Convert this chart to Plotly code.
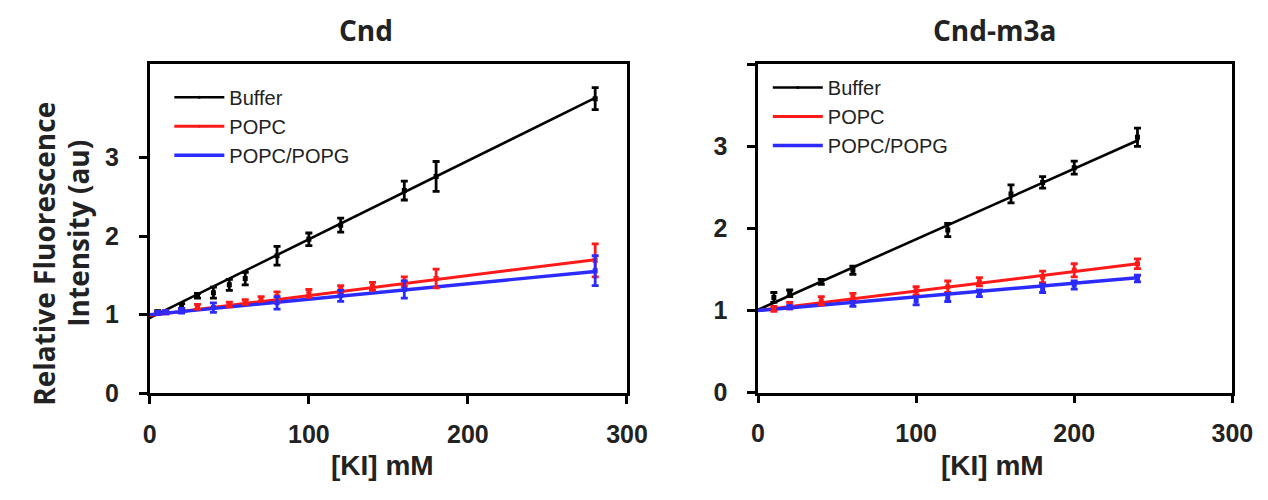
import plotly.graph_objects as go

# ---------------- Data: Cnd (left) ----------------
cnd_buf_x = [5, 20, 30, 40, 50, 60, 80, 100, 120, 160, 180, 280]
cnd_buf_y = [1.03, 1.11, 1.24, 1.28, 1.38, 1.46, 1.75, 1.96, 2.14, 2.58, 2.76, 3.75]
cnd_buf_e = [0.02, 0.03, 0.03, 0.07, 0.07, 0.08, 0.12, 0.08, 0.09, 0.12, 0.19, 0.14]

cnd_popc_x = [5, 10, 30, 50, 60, 70, 80, 100, 120, 140, 160, 180, 280]
cnd_popc_y = [1.02, 1.03, 1.10, 1.13, 1.16, 1.20, 1.23, 1.27, 1.32, 1.36, 1.42, 1.46, 1.69]
cnd_popc_e = [0.02, 0.02, 0.03, 0.03, 0.03, 0.03, 0.06, 0.05, 0.05, 0.05, 0.06, 0.12, 0.21]

cnd_pg_x = [5, 10, 20, 40, 80, 120, 160, 280]
cnd_pg_y = [1.02, 1.03, 1.05, 1.09, 1.15, 1.24, 1.32, 1.56]
cnd_pg_e = [0.02, 0.02, 0.03, 0.06, 0.08, 0.07, 0.11, 0.19]

cnd_fit_x = [0, 280]
cnd_fit_buf = [0.96, 3.76]
cnd_fit_popc = [0.99, 1.70]
cnd_fit_pg = [1.0, 1.55]

# ---------------- Data: Cnd-m3a (right) ----------------
m3a_buf_x = [10, 20, 40, 60, 120, 160, 180, 200, 240]
m3a_buf_y = [1.16, 1.21, 1.35, 1.49, 1.98, 2.42, 2.56, 2.74, 3.11]
m3a_buf_e = [0.06, 0.04, 0.03, 0.05, 0.08, 0.11, 0.07, 0.08, 0.11]

m3a_popc_x = [10, 20, 40, 60, 100, 120, 140, 180, 200, 240]
m3a_popc_y = [1.02, 1.06, 1.12, 1.16, 1.24, 1.29, 1.35, 1.41, 1.49, 1.57]
m3a_popc_e = [0.03, 0.04, 0.05, 0.05, 0.05, 0.07, 0.05, 0.07, 0.08, 0.06]

m3a_pg_x = [20, 60, 100, 120, 140, 180, 200, 240]
m3a_pg_y = [1.04, 1.08, 1.12, 1.16, 1.21, 1.27, 1.31, 1.39]
m3a_pg_e = [0.02, 0.03, 0.05, 0.05, 0.04, 0.05, 0.05, 0.04]

m3a_fit_x = [0, 240]
m3a_fit_buf = [1.01, 3.07]
m3a_fit_popc = [1.0, 1.57]
m3a_fit_pg = [1.0, 1.40]

series_names = ["Buffer", "POPC", "POPC/POPG"]
colors = ["#000000", "#ff1a1a", "#2b2bff"]
widths = [2.6, 3.0, 3.4]

x_ticks = [0, 100, 200, 300]
x_ticktext = ["0", "100", "200", "300"]
y_ticks_left = [0, 1, 2, 3]
y_ticktext_left = ["0", "1", "2", "3"]
y_ticks_right = [0, 1, 2, 3, 4]
y_ticktext_right = ["0", "1", "2", "3", ""]

W, H = 1268, 500

fig = go.Figure()

panels = [
    dict(xa="x", ya="y", legend="legend",
         pts=[(cnd_buf_x, cnd_buf_y, cnd_buf_e), (cnd_popc_x, cnd_popc_y, cnd_popc_e), (cnd_pg_x, cnd_pg_y, cnd_pg_e)],
         fx=cnd_fit_x, fy=[cnd_fit_buf, cnd_fit_popc, cnd_fit_pg]),
    dict(xa="x2", ya="y2", legend="legend2",
         pts=[(m3a_buf_x, m3a_buf_y, m3a_buf_e), (m3a_popc_x, m3a_popc_y, m3a_popc_e), (m3a_pg_x, m3a_pg_y, m3a_pg_e)],
         fx=m3a_fit_x, fy=[m3a_fit_buf, m3a_fit_popc, m3a_fit_pg]),
]

for p in panels:
    for i in range(3):
        fig.add_trace(go.Scatter(
            x=p["fx"], y=p["fy"][i], mode="lines+markers", name=series_names[i],
            line=dict(color=colors[i], width=widths[i]),
            marker=dict(color=colors[i], size=3),
            xaxis=p["xa"], yaxis=p["ya"], legend=p["legend"], showlegend=True,
        ))
    for i in range(3):
        xs, ys, es = p["pts"][i]
        fig.add_trace(go.Scatter(
            x=xs, y=ys, mode="markers", name=series_names[i],
            marker=dict(color=colors[i], size=5, symbol="square"),
            error_y=dict(type="data", array=es, visible=True, color=colors[i], thickness=2.8, width=3.5),
            xaxis=p["xa"], yaxis=p["ya"], showlegend=False,
        ))

def px_x(v):
    return v / W

def px_y(v):
    return 1 - v / H

def bold(labels):
    return ["<b>%s</b>" % t if t else "" for t in labels]

tickfont = dict(family="Liberation Sans, Arial", size=25, color="#222222")
axis_common = dict(showline=True, linecolor="black", linewidth=2.5, mirror=True,
                   ticks="outside", ticklen=8, tickwidth=2.5, tickcolor="black",
                   showgrid=False, zeroline=False, tickfont=tickfont)

legend_font = dict(family="Liberation Sans, Arial", size=20, color="#222222")

fig.update_layout(
    width=W, height=H,
    margin=dict(l=0, r=0, t=0, b=0),
    paper_bgcolor="white", plot_bgcolor="white",
    xaxis=dict(domain=[px_x(146), px_x(634)], range=[0, 300], tickvals=x_ticks,
               ticktext=bold(x_ticktext), anchor="y", ticklabelstandoff=9, **axis_common),
    yaxis=dict(domain=[px_y(404.5), px_y(66)], range=[0, 4.19], tickvals=y_ticks_left,
               ticktext=bold(y_ticktext_left), anchor="x", ticklabelstandoff=15, **axis_common),
    xaxis2=dict(domain=[px_x(768), px_x(1253)], range=[0, 300], tickvals=x_ticks,
                ticktext=bold(x_ticktext), anchor="y2", ticklabelstandoff=9, **axis_common),
    yaxis2=dict(domain=[px_y(404), px_y(66)], range=[0, 4.0], tickvals=y_ticks_right,
                ticktext=bold(y_ticktext_right), anchor="x2", ticklabelstandoff=15, **axis_common),
    legend=dict(x=px_x(166), y=px_y(80), xanchor="left", yanchor="top",
                font=legend_font, bgcolor="rgba(0,0,0,0)", itemwidth=50, tracegroupgap=0),
    legend2=dict(x=px_x(778), y=px_y(70), xanchor="left", yanchor="top",
                 font=legend_font, bgcolor="rgba(0,0,0,0)", itemwidth=50, tracegroupgap=0),
    showlegend=True,
)

title_font = dict(family="Open Sans", size=28, color="#222222")
label_font = dict(family="Open Sans", size=28, color="#222222")
xlab_font = dict(family="Liberation Sans, Arial", size=28, color="#222222")

annotations = [
    dict(text="<b>Cnd</b>", x=px_x(367), y=px_y(31), font=title_font),
    dict(text="<b>Cnd-m3a</b>", x=px_x(1010), y=px_y(31), font=title_font),
    dict(text="<b>Relative Fluorescence</b>", x=px_x(38), y=px_y(261), font=label_font, textangle=-90),
    dict(text="<b>Intensity (au)</b>", x=px_x(73), y=px_y(240), font=label_font, textangle=-90),
    dict(text="<b>[KI] mM</b>", x=px_x(384), y=px_y(479), font=xlab_font),
    dict(text="<b>[KI] mM</b>", x=px_x(1008), y=px_y(479), font=xlab_font),
]
for a in annotations:
    a.update(xref="paper", yref="paper", showarrow=False, xanchor="center", yanchor="middle")
fig.update_layout(annotations=annotations)

post = (
    "var gd=document.getElementById('{plot_id}');"
    "gd.style.position='fixed';gd.style.left='0px';gd.style.top='0px';"
    "document.body.style.margin='0';"
    "document.body.style.overflow='hidden';"
    "document.documentElement.style.overflow='hidden';"
)

fig.write_html("out.html", config={"displayModeBar": False}, post_script=post)
